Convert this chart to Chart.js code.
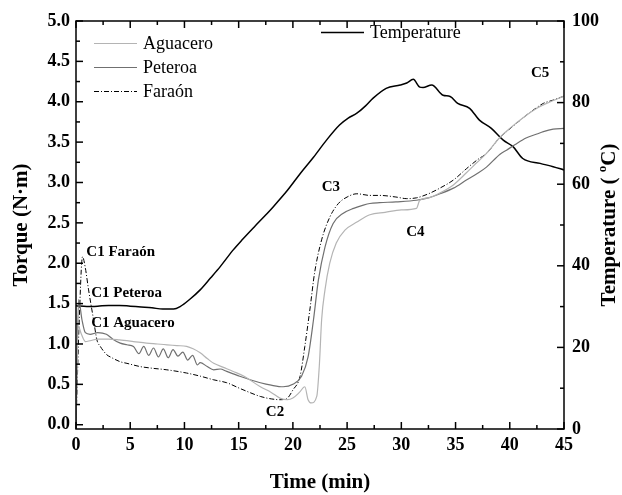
<!DOCTYPE html>
<html>
<head>
<meta charset="utf-8">
<script src="https://cdn.jsdelivr.net/npm/chart.js@4.4.0/dist/chart.umd.min.js"></script>
<style>
  html, body { margin: 0; padding: 0; background: #fff; }
  #wrap { width: 622px; height: 495px; }
</style>
</head>
<body>
<div id="wrap"><canvas id="chart" width="622" height="495"></canvas></div>
<script>
// Datos (tiempo en min, torque en N·m, temperatura en °C)
const timeTemp = [0, 1, 2, 3, 4, 5, 6, 7, 8, 9, 9.6, 10.5, 11.45, 12.4, 13.3, 14.5, 15.3, 16.5, 17.4, 18.2, 19.5, 20.7, 21.9, 23.1, 24.3, 25.1, 25.9, 26.7, 27.4, 28.6, 29.9, 30.5, 31.1, 31.7, 32.0, 32.8, 33.85, 34.5, 35.2, 36.3, 37.2, 38.3, 39.4, 40.3, 41.2, 42.8, 44.0, 45];
const temperature = [30.2, 30.0, 30.1, 30.3, 30.3, 30.1, 29.9, 29.7, 29.4, 29.4, 30.0, 31.8, 34.1, 37.0, 39.8, 43.9, 46.3, 49.7, 52.2, 54.5, 58.5, 62.7, 66.6, 70.8, 74.5, 76.2, 77.4, 79.2, 81.1, 83.5, 84.3, 84.8, 85.7, 83.8, 83.7, 84.3, 81.8, 81.5, 79.8, 78.6, 75.7, 73.7, 70.8, 69.2, 66.3, 65.1, 64.3, 63.5];

const timeFaraon = [0, 0.3, 0.6, 0.85, 1.16, 1.62, 1.93, 2.24, 2.85, 3.16, 4.08, 4.7, 5.92, 7, 8.38, 10.2, 11.5, 12.7, 13.9, 15.1, 16.0, 17.0, 18.0, 18.8, 19.4, 20.0, 20.66, 21.1, 21.6, 22.0, 22.65, 23.4, 24.2, 25.0, 25.9, 27.1, 28.0, 29.5, 30.5, 31.4, 32.5, 33.55, 34.8, 36.0, 37.0, 37.85, 39.1, 39.7, 40.5, 41.5, 42.3, 43.1, 44.0, 45];
const torqueFaraon = [0, 1.3, 2.08, 1.95, 1.67, 1.30, 1.05, 0.97, 0.865, 0.84, 0.78, 0.76, 0.72, 0.70, 0.68, 0.64, 0.60, 0.556, 0.52, 0.45, 0.40, 0.35, 0.32, 0.31, 0.32, 0.43, 0.60, 0.97, 1.46, 1.88, 2.29, 2.57, 2.74, 2.82, 2.86, 2.84, 2.84, 2.82, 2.80, 2.81, 2.86, 2.93, 3.03, 3.17, 3.28, 3.36, 3.56, 3.63, 3.72, 3.83, 3.91, 3.98, 4.02, 4.07];

const timePeteroa = [0, 0.24, 0.55, 0.86, 1.3, 2.0, 2.8, 3.4, 4.08, 4.7, 5.3, 5.8, 6.25, 6.7, 7.15, 7.6, 8.05, 8.5, 8.95, 9.4, 9.85, 10.3, 10.75, 11.2, 11.45, 12.1, 12.7, 13.3, 13.9, 14.5, 15.1, 16.0, 17.0, 18.0, 19.1, 20.0, 20.8, 21.4, 21.9, 22.35, 22.96, 23.7, 24.65, 25.6, 26.5, 27.1, 28.0, 29.5, 31.4, 32.5, 33.55, 34.8, 36.0, 37.0, 37.85, 39.1, 39.7, 40.5, 41.5, 42.5, 43.1, 44.0, 45];
const torquePeteroa = [0, 1.55, 1.30, 1.14, 1.12, 1.14, 1.12, 1.06, 1.01, 0.99, 0.97, 0.88, 0.97, 0.86, 0.95, 0.84, 0.94, 0.83, 0.93, 0.85, 0.90, 0.80, 0.86, 0.74, 0.77, 0.72, 0.68, 0.69, 0.66, 0.63, 0.60, 0.56, 0.52, 0.49, 0.47, 0.50, 0.60, 0.84, 1.30, 1.79, 2.20, 2.49, 2.62, 2.68, 2.72, 2.74, 2.75, 2.76, 2.78, 2.81, 2.86, 2.93, 3.03, 3.11, 3.19, 3.35, 3.40, 3.47, 3.55, 3.60, 3.63, 3.66, 3.67];

const timeAguacero = [0, 0.2, 0.5, 0.86, 1.3, 2.0, 3.0, 4.0, 5.3, 6.5, 7.5, 8.4, 9.3, 10.2, 10.8, 11.45, 12.1, 12.7, 13.6, 14.5, 15.5, 17.0, 18.0, 18.8, 19.5, 20.0, 20.6, 21.1, 21.4, 21.7, 22.2, 22.45, 22.65, 22.96, 23.4, 24.0, 24.8, 25.9, 27.1, 28.5, 30.0, 31.4, 31.7, 32.5, 33.55, 34.8, 36.0, 37.0, 37.85, 39.1, 40.0, 41.5, 42.5, 43.4, 45];
const torqueAguacero = [0, 1.22, 1.12, 1.03, 1.04, 1.06, 1.06, 1.05, 1.03, 1.01, 1.00, 0.99, 0.98, 0.97, 0.94, 0.89, 0.82, 0.76, 0.71, 0.66, 0.60, 0.47, 0.40, 0.33, 0.31, 0.33, 0.40, 0.47, 0.31, 0.27, 0.35, 0.76, 1.30, 1.67, 2.0, 2.25, 2.41, 2.51, 2.60, 2.63, 2.66, 2.68, 2.78, 2.81, 2.87, 2.97, 3.12, 3.25, 3.36, 3.56, 3.67, 3.83, 3.92, 3.98, 4.07];

// Etiquetas de los puntos característicos
const markLabels = ['C1 Faraón', 'C1 Peteroa', 'C1 Aguacero', 'C2', 'C3', 'C4', 'C5'];
const markTime = [0.95, 1.4, 1.4, 18.35, 23.5, 31.3, 42.8];
const markTorque = [2.14, 1.63, 1.26, 0.15, 2.94, 2.39, 4.35];
const markAlign = ['left', 'left', 'left', 'center', 'center', 'center', 'center'];

const serif = "'Liberation Serif', 'Times New Roman', serif";

function toPoints(xs, ys) {
    return xs.map((x, i) => ({ x: x, y: ys[i] }));
}

// Leyenda dibujada en dos bloques, como en la figura
const legendBlocks = {
    id: 'legendBlocks',
    afterDraw(chart) {
        const ctx = chart.ctx;
        const slots = [
            { ds: 0, x: 94, y: 43.5 },
            { ds: 1, x: 94, y: 67.5 },
            { ds: 2, x: 94, y: 91.5 },
            { ds: 3, x: 321, y: 32.5 }
        ];
        ctx.save();
        ctx.font = '18px ' + serif;
        ctx.fillStyle = '#000';
        ctx.textBaseline = 'middle';
        slots.forEach(s => {
            const d = chart.data.datasets[s.ds];
            ctx.beginPath();
            ctx.strokeStyle = d.borderColor;
            ctx.lineWidth = d.borderWidth;
            ctx.setLineDash(d.borderDash || []);
            ctx.moveTo(s.x, s.y);
            ctx.lineTo(s.x + 43, s.y);
            ctx.stroke();
            ctx.setLineDash([]);
            ctx.fillText(d.label, s.x + 49, s.y + 1);
        });
        ctx.restore();
    }
};

// Marco, marcas de los ejes hacia adentro, etiquetas y título derecho
const frame = {
    id: 'frame',
    afterDraw(chart) {
        const { ctx, chartArea: a, scales } = chart;
        ctx.save();
        ctx.strokeStyle = '#000';
        ctx.lineWidth = 1.5;
        ctx.strokeRect(a.left, a.top, a.right - a.left, a.bottom - a.top);

        const seg = (x1, y1, x2, y2) => {
            ctx.beginPath();
            ctx.moveTo(x1, y1);
            ctx.lineTo(x2, y2);
            ctx.stroke();
        };
        for (let v = 0; v <= 45; v += 2.5) {
            const px = scales.x.getPixelForValue(v);
            const len = v % 5 === 0 ? 7 : 4;
            seg(px, a.bottom, px, a.bottom - len);
            seg(px, a.top, px, a.top + len);
        }
        for (let v = 0; v <= 5.001; v += 0.25) {
            const py = scales.y.getPixelForValue(v);
            const len = Math.abs(v * 2 - Math.round(v * 2)) < 0.01 ? 7 : 4;
            seg(a.left, py, a.left + len, py);
        }
        for (let v = 0; v <= 100; v += 10) {
            const py = scales.y2.getPixelForValue(v);
            const len = v % 20 === 0 ? 7 : 4;
            seg(a.right, py, a.right - len, py);
        }

        // etiquetas C1..C5
        ctx.fillStyle = '#000';
        ctx.font = 'bold 15px ' + serif;
        ctx.textBaseline = 'middle';
        markLabels.forEach((t, i) => {
            ctx.textAlign = markAlign[i];
            ctx.fillText(t, scales.x.getPixelForValue(markTime[i]), scales.y.getPixelForValue(markTorque[i]));
        });

        // título del eje derecho, de abajo hacia arriba
        ctx.translate(610, (a.top + a.bottom) / 2);
        ctx.rotate(-Math.PI / 2);
        ctx.textAlign = 'left';
        const big = 'bold 21px ' + serif, small = 'bold 13px ' + serif;
        ctx.font = big;
        const w1 = ctx.measureText('Temperature ( ').width;
        const w3 = ctx.measureText('C)').width;
        ctx.font = small;
        const w2 = ctx.measureText('o').width;
        let x0 = -(w1 + w2 + w3) / 2;
        ctx.font = big;
        ctx.fillText('Temperature ( ', x0, 0);
        ctx.font = small;
        ctx.fillText('o', x0 + w1, -7);
        ctx.font = big;
        ctx.fillText('C)', x0 + w1 + w2, 0);
        ctx.restore();
    }
};

const chart = new Chart(document.getElementById('chart'), {
    type: 'line',
    data: {
        datasets: [
            {
                label: 'Aguacero',
                data: toPoints(timeAguacero, torqueAguacero),
                borderColor: '#b4b4b4',
                borderWidth: 1.2,
                yAxisID: 'y'
            },
            {
                label: 'Peteroa',
                data: toPoints(timePeteroa, torquePeteroa),
                borderColor: '#707070',
                borderWidth: 1.2,
                yAxisID: 'y'
            },
            {
                label: 'Faraón',
                data: toPoints(timeFaraon, torqueFaraon),
                borderColor: '#000',
                borderWidth: 1,
                borderDash: [5, 2, 1, 2],
                yAxisID: 'y'
            },
            {
                label: 'Temperature',
                data: toPoints(timeTemp, temperature),
                borderColor: '#000',
                borderWidth: 1.5,
                yAxisID: 'y2'
            }
        ]
    },
    options: {
        responsive: false,
        animation: false,
        devicePixelRatio: 1,
        layout: { padding: { top: 21, left: 0, right: 0, bottom: 0 } },
        elements: {
            point: { radius: 0 },
            line: { cubicInterpolationMode: 'monotone', fill: false }
        },
        plugins: {
            legend: { display: false },
            tooltip: { enabled: false }
        },
        scales: {
            x: {
                type: 'linear',
                position: 'bottom',
                min: 0,
                max: 45,
                grid: { display: false, drawTicks: false },
                border: { display: false },
                ticks: {
                    stepSize: 5,
                    color: '#000',
                    padding: 6,
                    maxRotation: 0,
                    font: { family: serif, size: 18, weight: 'bold' }
                },
                title: {
                    display: true,
                    text: 'Time (min)',
                    color: '#000',
                    padding: { top: 0, bottom: 0 },
                    font: { family: serif, size: 21, weight: 'bold' }
                },
                afterFit: s => { s.height = 66; }
            },
            y: {
                type: 'linear',
                position: 'left',
                min: -0.053,
                max: 5.0,
                grid: { display: false, drawTicks: false },
                border: { display: false },
                afterBuildTicks: s => {
                    s.ticks = [];
                    for (let v = 0; v <= 10; v++) s.ticks.push({ value: v * 0.5 });
                },
                ticks: {
                    color: '#000',
                    padding: 6,
                    callback: v => v.toFixed(1),
                    font: { family: serif, size: 18, weight: 'bold' }
                },
                title: {
                    display: true,
                    text: 'Torque (N·m)',
                    color: '#000',
                    padding: { top: 9, bottom: 0 },
                    font: { family: serif, size: 21, weight: 'bold' }
                },
                afterFit: s => { s.width = 76; }
            },
            y2: {
                type: 'linear',
                position: 'right',
                min: 0,
                max: 100,
                grid: { display: false, drawTicks: false },
                border: { display: false },
                ticks: {
                    stepSize: 20,
                    color: '#000',
                    padding: 8,
                    font: { family: serif, size: 18, weight: 'bold' }
                },
                afterFit: s => { s.width = 58; }
            }
        }
    },
    plugins: [legendBlocks, frame]
});
</script>
</body>
</html>
